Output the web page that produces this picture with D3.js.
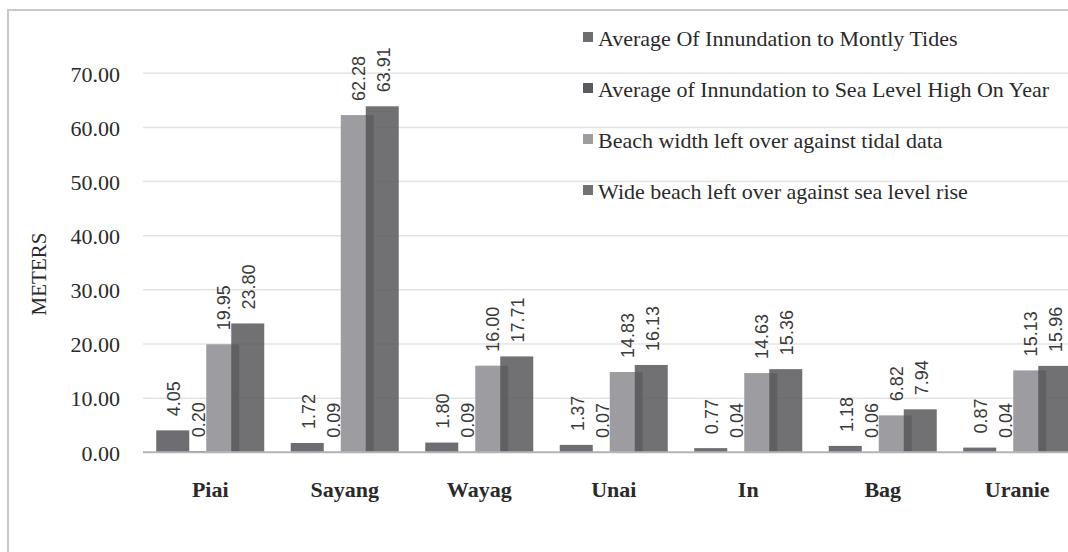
<!DOCTYPE html>
<html>
<head>
<meta charset="utf-8">
<script src="https://cdn.jsdelivr.net/npm/d3@7"></script>
<style>
    body { margin: 0; background: #fff; }
    #charts { width: 1068px; height: 552px; overflow: hidden; }
</style>
</head>
<body>
<div id="charts"></div>
<script>
// data
let locations = ["Piai", "Sayang", "Wayag", "Unai", "In", "Bag", "Uranie"];
let seriesNames = [
    "Average Of Innundation to Montly Tides",
    "Average of Innundation to Sea Level High On Year",
    "Beach width left over against tidal data",
    "Wide beach left over against sea level rise"
];
let monthlyTides = [4.05, 1.72, 1.80, 1.37, 0.77, 1.18, 0.87];
let highOnYear = [0.20, 0.09, 0.09, 0.07, 0.04, 0.06, 0.04];
let beachTidal = [19.95, 62.28, 16.00, 14.83, 14.63, 6.82, 15.13];
let beachRise = [23.80, 63.91, 17.71, 16.13, 15.36, 7.94, 15.96];
let yTicks = [0, 10, 20, 30, 40, 50, 60, 70];

let seriesValues = [monthlyTides, highOnYear, beachTidal, beachRise];
let colors = ["#6e6e72", "#5a5a5e", "#9d9da1", "#545457"];
let opacities = [1, 1, 1, 0.83];

let w = 1068;
let h = 552;

let viz = d3.select("#charts")
    .append("svg")
    .attr("width", w)
    .attr("height", h)
    .style("display", "block");

viz.append("rect")
    .attr("width", w)
    .attr("height", h)
    .attr("fill", "#fff");

// chart frame (cropped on the right and bottom)
viz.append("rect")
    .attr("x", 8)
    .attr("y", 10)
    .attr("width", 1200)
    .attr("height", 700)
    .attr("fill", "none")
    .attr("stroke", "#c8c8cc")
    .attr("stroke-width", 2);

let xScale = d3.scaleBand()
    .domain(locations)
    .range([143, 143 + 134.5 * locations.length])
    .padding(0);

// position of each series inside a group (bars overlap a bit)
let xSub = d3.scalePoint()
    .domain(d3.range(seriesNames.length))
    .range([-37.5, 37.5]);
let barW = 33;

let yScale = d3.scaleLinear()
    .domain([0, 70])
    .range([452.3, 73.3]);

// gridlines
viz.append("g")
    .selectAll("line")
    .data(yTicks.slice(1))
    .enter()
    .append("line")
    .attr("x1", 143)
    .attr("x2", w)
    .attr("y1", function (d) { return yScale(d); })
    .attr("y2", function (d) { return yScale(d); })
    .attr("stroke", "#e4e4e6")
    .attr("stroke-width", 1.5);

// y axis
let yAxis = d3.axisLeft(yScale)
    .tickValues(yTicks)
    .tickSize(0)
    .tickPadding(0)
    .tickFormat(function (d) { return d.toFixed(2); });
let yAxisGroup = viz.append("g")
    .attr("transform", "translate(120,0)")
    .call(yAxis);
yAxisGroup.select(".domain").remove();
yAxisGroup.selectAll("text")
    .attr("font-family", "Liberation Serif, Times New Roman, serif")
    .attr("font-size", 22)
    .attr("fill", "#2a2a2a")
    .attr("dy", "0.35em");

viz.append("text")
    .attr("transform", "translate(39,274) rotate(-90)")
    .attr("text-anchor", "middle")
    .attr("dy", "0.35em")
    .attr("font-family", "Liberation Serif, Times New Roman, serif")
    .attr("font-size", 21)
    .attr("fill", "#2a2a2a")
    .text("METERS");

// bars
let groups = viz.append("g")
    .selectAll("g")
    .data(seriesValues)
    .enter()
    .append("g")
    .attr("fill", function (d, i) { return colors[i]; })
    .attr("fill-opacity", function (d, i) { return opacities[i]; });

groups.selectAll("rect")
    .data(function (vals, s) { return vals.map(function (v, j) { return { s: s, loc: locations[j], value: v }; }); })
    .enter()
    .append("rect")
    .attr("x", function (d) { return xScale(d.loc) + xScale.bandwidth() / 2 + xSub(d.s) - barW / 2; })
    .attr("y", function (d) { return yScale(d.value); })
    .attr("width", barW)
    .attr("height", function (d) { return yScale(0) - yScale(d.value); });

// x axis line
viz.append("line")
    .attr("x1", 143)
    .attr("x2", w)
    .attr("y1", yScale(0))
    .attr("y2", yScale(0))
    .attr("stroke", "#b4b4b8")
    .attr("stroke-width", 2);

// value labels, rotated
viz.append("g")
    .selectAll("g")
    .data(seriesValues)
    .enter()
    .append("g")
    .selectAll("text")
    .data(function (vals, s) { return vals.map(function (v, j) { return { s: s, loc: locations[j], value: v }; }); })
    .enter()
    .append("text")
    .attr("transform", function (d) {
        let x = xScale(d.loc) + xScale.bandwidth() / 2 + xSub(d.s) + 1;
        let y = yScale(d.value) - 14;
        return "translate(" + x + "," + y + ") rotate(-90)";
    })
    .attr("dy", "0.35em")
    .attr("font-family", "Liberation Sans, Arial, sans-serif")
    .attr("font-size", 18)
    .attr("fill", "#3a3a3a")
    .text(function (d) { return d.value.toFixed(2); });

// category labels
viz.append("g")
    .selectAll("text")
    .data(locations)
    .enter()
    .append("text")
    .attr("x", function (d) { return xScale(d) + xScale.bandwidth() / 2; })
    .attr("y", 497)
    .attr("text-anchor", "middle")
    .attr("font-family", "Liberation Serif, Times New Roman, serif")
    .attr("font-size", 22)
    .attr("font-weight", "bold")
    .attr("fill", "#2a2a2a")
    .text(function (d) { return d; });

// legend
let legend = viz.append("g")
    .selectAll("g")
    .data(seriesNames)
    .enter()
    .append("g")
    .attr("transform", function (d, i) { return "translate(583," + (38 + i * 51) + ")"; });
legend.append("rect")
    .attr("x", 0)
    .attr("y", -6)
    .attr("width", 10)
    .attr("height", 10)
    .attr("fill", function (d, i) { return colors[i]; })
    .attr("fill-opacity", function (d, i) { return opacities[i]; });
legend.append("text")
    .attr("x", 15)
    .attr("y", 8)
    .attr("font-family", "Liberation Serif, Times New Roman, serif")
    .attr("font-size", 22)
    .attr("fill", "#2a2a2a")
    .text(function (d) { return d; });
</script>
</body>
</html>
